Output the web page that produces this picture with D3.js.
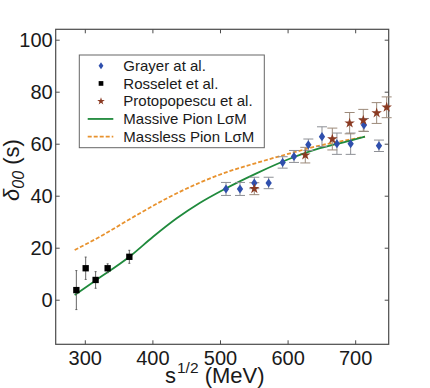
<!DOCTYPE html>
<html>
<head>
<meta charset="utf-8">
<script src="https://cdn.jsdelivr.net/npm/d3@7"></script>
<style>
  body { margin: 0; background: #fff; }
  text { font-family: "Liberation Sans", Arial, sans-serif; }
</style>
</head>
<body>
<div class="chart"></div>
<script>
// Rosselet et al. (black squares)
var ros_x = [287.5, 301.3, 316, 333.8, 365.9];
var ros_y = [3.7, 12.1, 7.6, 12.1, 16.5];
var ros_err = [7.5, 4.3, 3.2, 1.7, 2.5];

// Grayer at al. (blue diamonds)
var gra_x = [508.9, 529.6, 550.8, 572, 592.7, 609.5, 630.7, 650.9, 673, 693.3, 713, 735.2];
var gra_y = [42.6, 42.6, 44.9, 44.9, 52.8, 55.1, 59.6, 62.7, 60, 60, 67.2, 59.2];
var gra_err = [2.5, 2.5, 2.2, 2.2, 2.2, 2.3, 2.2, 3.8, 4.1, 4.1, 2.5, 2.2];

// Protopopescu et al. (brown stars)
var pro_x = [550.8, 626.2, 666.2, 691.8, 712, 731.8, 746.6];
var pro_y = [42.7, 55.6, 61.8, 67.9, 69, 71.8, 74];
var pro_err = [2.3, 3, 4.2, 4.1, 4.2, 4, 4];

// model curves
var massive_x = [285, 316, 366, 401, 436, 470, 505, 554, 604, 648, 690, 714.5];
var massive_y = [1.8, 7.4, 16.5, 24.2, 31.3, 37.2, 42.3, 48.6, 54.3, 58.3, 61, 62.7];
var massless_x = [285, 327, 377, 426, 470, 505, 554, 604, 648, 690, 714.5];
var massless_y = [19.1, 24.9, 32.6, 39.6, 45.0, 48.6, 52.6, 56.3, 59.3, 61.5, 62.7];

var x_ticks = [300, 400, 500, 600, 700];
var y_ticks = [0, 20, 40, 60, 80, 100];
var legend_labels = ["Grayer at al.", "Rosselet et al.", "Protopopescu et al.", "Massive Pion L\u03c3M", "Massless Pion L\u03c3M"];

var W = 430, H = 388;
var pLeft = 55.7, pRight = 388.7, pTop = 29.3, pBottom = 344.3;

var svg = d3.select(".chart")
    .append("svg")
    .attr("width", W)
    .attr("height", H)

var x = d3.scaleLinear().domain([256.95, 749.6]).range([pLeft, pRight]);
var y = d3.scaleLinear().domain([-17.15, 104]).range([pBottom, pTop]);

// axes with inward ticks on all four sides
var axisColor = "#4a4a4a";

var gx = svg.append("g")
    .attr("transform", "translate(0," + pBottom + ")")
    .call(d3.axisBottom(x).tickValues(x_ticks).tickSizeInner(-4).tickSizeOuter(0).tickPadding(7));
var gxTop = svg.append("g")
    .attr("transform", "translate(0," + pTop + ")")
    .call(d3.axisTop(x).tickValues(x_ticks).tickSizeInner(-4).tickSizeOuter(0).tickFormat(""));
var gy = svg.append("g")
    .attr("transform", "translate(" + pLeft + ",0)")
    .call(d3.axisLeft(y).tickValues(y_ticks).tickSizeInner(-4).tickSizeOuter(0).tickPadding(3));
var gyRight = svg.append("g")
    .attr("transform", "translate(" + pRight + ",0)")
    .call(d3.axisRight(y).tickValues(y_ticks).tickSizeInner(-4).tickSizeOuter(0).tickFormat(""));

[gx, gxTop, gy, gyRight].forEach(function (g) {
    g.select(".domain").remove();
    g.selectAll(".tick line").style("stroke", axisColor).style("stroke-width", 1);
    g.selectAll(".tick text")
        .style("font-size", "20px")
        .attr("font-family", "Liberation Sans, Arial, sans-serif")
        .attr("fill", "#1a1a1a");
});

svg.append("rect")
    .attr("x", pLeft)
    .attr("y", pTop)
    .attr("width", pRight - pLeft)
    .attr("height", pBottom - pTop)
    .style("fill", "none")
    .style("stroke", axisColor)
    .style("stroke-width", 1.2)

// curves
var line = d3.line()
    .x(function (d) { return x(d[0]); })
    .y(function (d) { return y(d[1]); })
    .curve(d3.curveMonotoneX);

svg.append("path")
    .datum(massless_x.map(function (v, i) { return [v, massless_y[i]]; }))
    .attr("d", line)
    .style("fill", "none")
    .style("stroke", "#e8922e")
    .style("stroke-width", 1.8)
    .style("stroke-dasharray", "4,2")

svg.append("path")
    .datum(massive_x.map(function (v, i) { return [v, massive_y[i]]; }))
    .attr("d", line)
    .style("fill", "none")
    .style("stroke", "#1f8a3c")
    .style("stroke-width", 1.8)

// error bars
function errorBars(xs, ys, errs, color, cap, width) {
    for (var i = 0; i < xs.length; i++) {
        var cx = x(xs[i]);
        var y1 = y(ys[i] + errs[i]);
        var y2 = y(ys[i] - errs[i]);
        svg.append("line")
            .attr("x1", cx).attr("y1", y1)
            .attr("x2", cx).attr("y2", y2)
            .style("stroke", color)
            .style("stroke-width", width)
        if (cap > 0) {
            [y1, y2].forEach(function (yy) {
                svg.append("line")
                    .attr("x1", cx - cap).attr("y1", yy)
                    .attr("x2", cx + cap).attr("y2", yy)
                    .style("stroke", color)
                    .style("stroke-width", width)
            });
        }
    }
}

errorBars(ros_x, ros_y, ros_err, "#555", 1, 0.9);
errorBars(gra_x, gra_y, gra_err, "#8e9096", 5, 1);
errorBars(pro_x, pro_y, pro_err, "#9c8a7a", 5, 1);

// markers
var diamond = d3.symbol().type(d3.symbolDiamond).size(24);
var square = d3.symbol().type(d3.symbolSquare).size(40);
var star = d3.symbol().type(d3.symbolStar).size(34);

for (var i = 0; i < ros_x.length; i++) {
    svg.append("path")
        .attr("d", square())
        .attr("transform", "translate(" + x(ros_x[i]) + "," + y(ros_y[i]) + ")")
        .style("fill", "#000")
}
for (var i = 0; i < gra_x.length; i++) {
    svg.append("path")
        .attr("d", diamond())
        .attr("transform", "translate(" + x(gra_x[i]) + "," + y(gra_y[i]) + ") scale(1.2,1)")
        .style("fill", "#2f4fad")
}
for (var i = 0; i < pro_x.length; i++) {
    svg.append("path")
        .attr("d", star())
        .attr("transform", "translate(" + x(pro_x[i]) + "," + y(pro_y[i]) + ")")
        .style("fill", "#8a3a22")
}

// legend
var lg = svg.append("g");
lg.append("rect")
    .attr("x", 79.3)
    .attr("y", 55)
    .attr("width", 185)
    .attr("height", 92.7)
    .style("fill", "#fff")
    .style("stroke", "#666")
    .style("stroke-width", 1)

for (var i = 0; i < legend_labels.length; i++) {
    var ly = 65.7 + i * 17.75;
    lg.append("text")
        .attr("x", 123.3)
        .attr("y", ly)
        .attr("dy", "0.35em")
        .text(legend_labels[i])
        .style("font-size", "15px")
        .attr("fill", "#1a1a1a")
}
lg.append("path").attr("d", d3.symbol().type(d3.symbolDiamond).size(14)())
    .attr("transform", "translate(101,65.7) scale(1.2,1)").style("fill", "#2f4fad")
lg.append("path").attr("d", d3.symbol().type(d3.symbolSquare).size(22)())
    .attr("transform", "translate(101," + (65.7 + 17.75) + ")").style("fill", "#000")
lg.append("path").attr("d", d3.symbol().type(d3.symbolStar).size(18)())
    .attr("transform", "translate(101," + (65.7 + 2 * 17.75) + ")").style("fill", "#8a3a22")
lg.append("line")
    .attr("x1", 87.7).attr("x2", 113.3)
    .attr("y1", 65.7 + 3 * 17.75).attr("y2", 65.7 + 3 * 17.75)
    .style("stroke", "#1f8a3c").style("stroke-width", 1.8)
lg.append("line")
    .attr("x1", 87.7).attr("x2", 113.3)
    .attr("y1", 65.7 + 4 * 17.75).attr("y2", 65.7 + 4 * 17.75)
    .style("stroke", "#e8922e").style("stroke-width", 1.8).style("stroke-dasharray", "4,2")

// axis titles
var xt = svg.append("text")
    .attr("x", 165)
    .attr("y", 383)
    .style("font-size", "22px")
    .attr("fill", "#1a1a1a")
xt.append("tspan").text("s");
xt.append("tspan").attr("dx", 1).attr("dy", -10).style("font-size", "15.5px").text("1/2");
xt.append("tspan").attr("dy", 10).text(" (MeV)");

var yt = svg.append("text")
    .attr("transform", "translate(18.6,170) rotate(-90)")
    .attr("text-anchor", "middle")
    .style("font-size", "22px")
    .attr("fill", "#1a1a1a")
yt.append("tspan").style("font-style", "italic").text("\u03b4");
yt.append("tspan").attr("dy", 5).style("font-size", "16px").style("font-style", "italic").text("00");
yt.append("tspan").attr("dy", -5).text(" (s)");
</script>
</body>
</html>
